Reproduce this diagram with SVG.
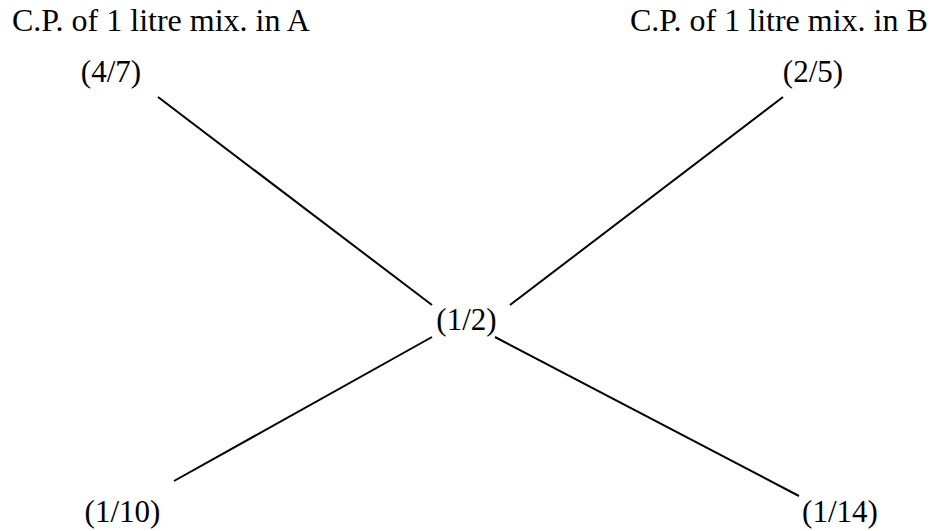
<svg xmlns="http://www.w3.org/2000/svg" width="935" height="531" viewBox="0 0 935 531">
<style>
text { font-family: "Liberation Serif", "Times New Roman", serif; font-size: 31px; fill: #000; }
.hdr { font-size: 32px; }
.edge { stroke: #000; stroke-width: 2; fill: none; }
</style>
<rect width="935" height="531" fill="#fff"/>
<g id="header-a"><text class="hdr" x="12" y="31">C.P. of 1 litre mix. in A</text></g>
<g id="header-b"><text class="hdr" x="630" y="31">C.P. of 1 litre mix. in B</text></g>
<g id="node-a"><text x="111" y="82" text-anchor="middle">(4/7)</text></g>
<g id="node-b"><text x="813" y="82" text-anchor="middle">(2/5)</text></g>
<g id="node-mean"><text x="466.5" y="330" text-anchor="middle">(1/2)</text></g>
<g id="node-diff-a"><text x="122.5" y="522" text-anchor="middle">(1/10)</text></g>
<g id="node-diff-b"><text x="840" y="522" text-anchor="middle">(1/14)</text></g>
<g id="connectors">
<line class="edge" x1="158" y1="97" x2="432" y2="305"/>
<line class="edge" x1="783" y1="97" x2="510" y2="305"/>
<line class="edge" x1="432" y1="337" x2="174" y2="481"/>
<line class="edge" x1="495" y1="337" x2="799" y2="496"/>
</g>
</svg>
